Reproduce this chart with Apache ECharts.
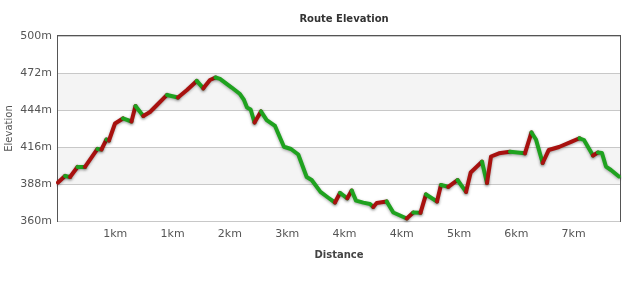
<!DOCTYPE html>
<html>
<head>
<meta charset="utf-8">
<script src="https://cdn.jsdelivr.net/npm/echarts@6/dist/echarts.min.js"></script>
<style>
html,body{margin:0;padding:0;background:#fff;}
#chart{width:634px;height:282px;}
</style>
</head>
<body>
<div id="chart"></div>
<script>
// Distance along route (metres)
const distance = [0,98,168,272,377,551,607,677,712,796,907,1026,1082,1191,1285,1382,1522,1675,1801,1937,2029,2122,2199,2262,2425,2541,2597,2639,2690,2744,2834,2914,3030,3155,3253,3355,3472,3542,3665,3774,3867,3937,4039,4101,4161,4263,4356,4402,4450,4589,4682,4869,4961,5061,5138,5292,5347,5449,5578,5697,5762,5920,5990,6046,6157,6311,6520,6611,6674,6767,6851,6995,7172,7281,7344,7470,7539,7595,7651,7721,7832];
// Elevation (metres)
const elevation = [389.1,394.1,393.3,400.9,400.9,414.5,414.1,421.7,420.9,433.8,437.6,435.3,447.0,439.5,442.5,447.8,455.4,453.5,459.1,466.0,460.4,466.7,468.6,467.5,461.0,456.1,451.6,445.9,444.4,434.5,442.9,436.4,431.9,416.2,414.5,410.3,393.3,391.0,382.0,377.6,374.0,381.2,377.2,383.1,375.4,373.9,372.9,370.6,373.6,374.8,366.4,361.9,366.4,366.2,380.1,374.8,387.2,385.9,391.0,382.0,396.7,404.9,388.8,408.8,411.2,412.4,411.2,427.0,421.7,403.9,413.7,416.0,420.0,422.6,421.3,409.6,411.8,411.5,401.2,398.6,393.7];
// X tick labels (ticks every 800 m)
const xTickLabels = ['1km','1km','2km','3km','4km','4km','5km','6km','7km'];
const xMax = 7847;

const UP = '#a8110f', DOWN = '#1fa21f';
const series = [];
let runStart = 0;
let runUp = elevation[1] > elevation[0];
for (let i = 1; i < elevation.length; i++) {
  const up = i < elevation.length - 1 ? elevation[i+1] > elevation[i] : null;
  if (up !== runUp) {
    const pts = [];
    for (let k = runStart; k <= i; k++) pts.push([distance[k], elevation[k]]);
    series.push({
      type: 'line', data: pts, symbol: 'none', silent: true,
      lineStyle: { width: 4, color: runUp ? UP : DOWN, cap: 'round', join: 'round',
        shadowColor: 'rgba(0,0,0,0.35)', shadowBlur: 3, shadowOffsetY: 1 }
    });
    runStart = i; runUp = up;
  }
}

const chart = echarts.init(document.getElementById('chart'));
chart.setOption({
  animation: false,
  title: {
    text: 'Route Elevation', left: 339, textAlign: 'center', top: 9,
    textStyle: { fontFamily: 'DejaVu Sans', fontSize: 10, fontWeight: 'bold', color: '#333' }
  },
  grid: { left: 58, right: 14, top: 36, bottom: 61, show: true, borderColor: '#555', borderWidth: 2,
    backgroundColor: 'transparent', containLabel: false, outerBoundsMode: 'none' },
  xAxis: {
    type: 'value', min: 0, max: xMax, interval: 800,
    name: 'Distance', nameLocation: 'middle', nameGap: 29, nameMoveOverlap: false,
    nameTextStyle: { fontFamily: 'DejaVu Sans', fontSize: 10, fontWeight: 'bold', color: '#444' },
    axisLine: { show: false }, axisTick: { show: false }, splitLine: { show: false },
    axisLabel: {
      fontFamily: 'DejaVu Sans', fontSize: 11, color: '#555', margin: 8,
      showMinLabel: false, showMaxLabel: false,
      formatter: function (v) {
        const idx = Math.round(v / 800);
        if (Math.abs(v - idx * 800) > 1e-6 || idx < 1 || idx > xTickLabels.length) return '';
        return xTickLabels[idx - 1];
      }
    }
  },
  yAxis: {
    type: 'value', min: 360, max: 500, interval: 28,
    name: 'Elevation', nameLocation: 'middle', nameGap: 44, nameMoveOverlap: false,
    nameTextStyle: { fontFamily: 'DejaVu Sans', fontSize: 10, color: '#555' },
    axisLine: { show: false }, axisTick: { show: false },
    axisLabel: { fontFamily: 'DejaVu Sans', fontSize: 11, color: '#555', margin: 6, formatter: '{value}m' },
    splitLine: { show: true, lineStyle: { color: '#c8c8c8', width: 1 } },
    splitArea: { show: true, areaStyle: { color: ['#ffffff', '#f4f4f4'] } }
  },
  series: series
});
</script>
</body>
</html>
